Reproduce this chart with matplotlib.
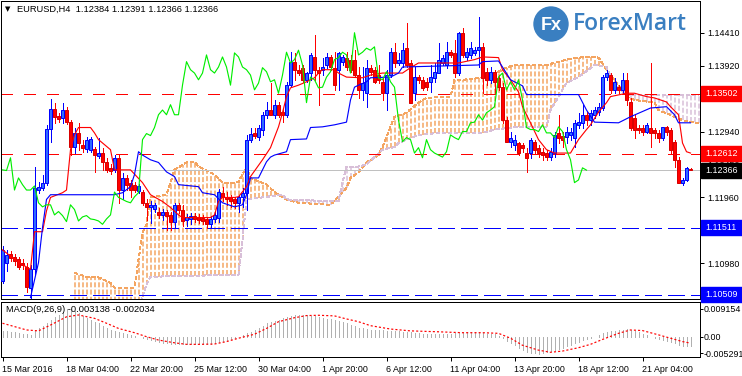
import numpy as np
import matplotlib
matplotlib.use("Agg")
import matplotlib.pyplot as plt
from matplotlib.patches import Rectangle, Circle
from matplotlib.transforms import IdentityTransform

plt.rcParams['font.family'] = ['Liberation Sans', 'DejaVu Sans']
plt.rcParams['lines.scale_dashes'] = False

# ---------------- EURUSD H4 candles (bar 0 = 15 Mar 2016) ----------------
opens = [1.1071, 1.1099, 1.1112, 1.1108, 1.1104, 1.1099, 1.1093, 1.1062, 1.1089, 1.1207,
         1.1210, 1.1218, 1.1298, 1.1328, 1.1317, 1.1314, 1.1326, 1.1308, 1.1271, 1.1292,
         1.1274, 1.1268, 1.1267, 1.1268, 1.1258, 1.1262, 1.1248, 1.1240, 1.1237, 1.1255,
         1.1207, 1.1225, 1.1218, 1.1215, 1.1206, 1.1204, 1.1188, 1.1182, 1.1179, 1.1175,
         1.1170, 1.1175, 1.1170, 1.1160, 1.1185, 1.1178, 1.1163, 1.1164, 1.1169, 1.1167,
         1.1166, 1.1164, 1.1156, 1.1164, 1.1166, 1.1203, 1.1197, 1.1196, 1.1193, 1.1188,
         1.1196, 1.1203, 1.1282, 1.1292, 1.1286, 1.1297, 1.1319, 1.1326, 1.1319, 1.1334,
         1.1323, 1.1319, 1.1363, 1.1398, 1.1386, 1.1389, 1.1371, 1.1381, 1.1405, 1.1386,
         1.1386, 1.1393, 1.1405, 1.1389, 1.1386, 1.1398, 1.1404, 1.1401, 1.1401, 1.1378,
         1.1356, 1.1351, 1.1389, 1.1386, 1.1378, 1.1368, 1.1351, 1.1378, 1.1412, 1.1396,
         1.1396, 1.1418, 1.1396, 1.1351, 1.1375, 1.1371, 1.1368, 1.1368, 1.1374, 1.1381,
         1.1396, 1.1393, 1.1412, 1.1411, 1.1381, 1.1441, 1.1405, 1.1408, 1.1411, 1.1415,
         1.1420, 1.1383, 1.1371, 1.1383, 1.1374, 1.1360, 1.1311, 1.1279, 1.1274, 1.1277,
         1.1274, 1.1262, 1.1262, 1.1279, 1.1270, 1.1264, 1.1262, 1.1256, 1.1262, 1.1292,
         1.1288, 1.1286, 1.1289, 1.1285, 1.1304, 1.1307, 1.1319, 1.1311, 1.1319, 1.1323,
         1.1329, 1.1375, 1.1378, 1.1356, 1.1360, 1.1356, 1.1371, 1.1338, 1.1314, 1.1300,
         1.1300, 1.1294, 1.1300, 1.1297, 1.1292, 1.1285, 1.1301, 1.1297, 1.1279, 1.1252,
         1.1218, 1.1222, 1.12384]
highs = [1.1124, 1.1118, 1.1117, 1.1112, 1.1108, 1.1104, 1.1098, 1.1095, 1.1242, 1.1219,
         1.1230, 1.1304, 1.1343, 1.1337, 1.1322, 1.1337, 1.1331, 1.1311, 1.1300, 1.1307,
         1.1282, 1.1286, 1.1286, 1.1271, 1.1285, 1.1270, 1.1255, 1.1245, 1.1259, 1.1259,
         1.1233, 1.1230, 1.1222, 1.1219, 1.1216, 1.1207, 1.1193, 1.1190, 1.1188, 1.1181,
         1.1179, 1.1178, 1.1175, 1.1188, 1.1188, 1.1185, 1.1172, 1.1173, 1.1173, 1.1172,
         1.1170, 1.1167, 1.1169, 1.1175, 1.1209, 1.1212, 1.1204, 1.1200, 1.1197, 1.1200,
         1.1210, 1.1289, 1.1300, 1.1300, 1.1304, 1.1323, 1.1338, 1.1366, 1.1341, 1.1338,
         1.1329, 1.1368, 1.1412, 1.1411, 1.1393, 1.1393, 1.1383, 1.1411, 1.1438, 1.1390,
         1.1404, 1.1411, 1.1408, 1.1412, 1.1412, 1.1408, 1.1412, 1.1408, 1.1415, 1.1390,
         1.1390, 1.1401, 1.1393, 1.1390, 1.1393, 1.1374, 1.1386, 1.1418, 1.1426, 1.1411,
         1.1426, 1.1455, 1.1401, 1.1390, 1.1378, 1.1375, 1.1374, 1.1393, 1.1396, 1.1426,
         1.1408, 1.1427, 1.1415, 1.1430, 1.1442, 1.1448, 1.1418, 1.1427, 1.1420, 1.1464,
         1.1426, 1.1389, 1.1390, 1.1386, 1.1378, 1.1366, 1.1316, 1.1294, 1.1289, 1.1279,
         1.1277, 1.1270, 1.1285, 1.1282, 1.1274, 1.1270, 1.1267, 1.1270, 1.1294, 1.1319,
         1.1294, 1.1301, 1.1300, 1.1311, 1.1322, 1.1334, 1.1323, 1.1326, 1.1331, 1.1337,
         1.1378, 1.1386, 1.1381, 1.1374, 1.1363, 1.1381, 1.1381, 1.1344, 1.1319, 1.1304,
         1.1304, 1.1307, 1.1396, 1.1300, 1.1297, 1.1301, 1.1302, 1.1300, 1.1282, 1.1256,
         1.1225, 1.1242, 1.12391]
lows = [1.1068, 1.1086, 1.1101, 1.1096, 1.1089, 1.1089, 1.1056, 1.1047, 1.1081, 1.1203,
        1.1207, 1.1215, 1.1279, 1.1307, 1.1308, 1.1307, 1.1305, 1.1259, 1.1262, 1.1267,
        1.1264, 1.1264, 1.1264, 1.1234, 1.1255, 1.1237, 1.1234, 1.1231, 1.1234, 1.1188,
        1.1193, 1.1207, 1.1197, 1.1204, 1.1202, 1.1185, 1.1163, 1.1158, 1.1175, 1.1166,
        1.1163, 1.1148, 1.1148, 1.1151, 1.1173, 1.1153, 1.1154, 1.1157, 1.1160, 1.1158,
        1.1157, 1.1150, 1.1151, 1.1160, 1.1160, 1.1190, 1.1185, 1.1182, 1.1181, 1.1175,
        1.1182, 1.1178, 1.1279, 1.1285, 1.1282, 1.1289, 1.1314, 1.1319, 1.1314, 1.1316,
        1.1308, 1.1316, 1.1362, 1.1371, 1.1378, 1.1368, 1.1368, 1.1371, 1.1371, 1.1334,
        1.1378, 1.1389, 1.1386, 1.1356, 1.1356, 1.1393, 1.1386, 1.1383, 1.1375, 1.1344,
        1.1341, 1.1331, 1.1378, 1.1366, 1.1366, 1.1341, 1.1326, 1.1375, 1.1390, 1.1393,
        1.1390, 1.1390, 1.1337, 1.1341, 1.1366, 1.1356, 1.1356, 1.1353, 1.1368, 1.1381,
        1.1393, 1.1389, 1.1405, 1.1375, 1.1378, 1.1405, 1.1401, 1.1404, 1.1408, 1.1390,
        1.1351, 1.1363, 1.1366, 1.1351, 1.1356, 1.1307, 1.1279, 1.1271, 1.1267, 1.1259,
        1.1264, 1.1234, 1.1255, 1.1262, 1.1256, 1.1252, 1.1252, 1.1252, 1.1256, 1.1277,
        1.1271, 1.1277, 1.1282, 1.1271, 1.1300, 1.1300, 1.1304, 1.1304, 1.1314, 1.1319,
        1.1326, 1.1371, 1.1351, 1.1351, 1.1351, 1.1351, 1.1334, 1.1297, 1.1285, 1.1292,
        1.1289, 1.1292, 1.1271, 1.1285, 1.1279, 1.1282, 1.1289, 1.1262, 1.1242, 1.1218,
        1.1215, 1.1221, 1.12366]
closes = [1.1118, 1.1111, 1.1106, 1.1101, 1.1093, 1.1095, 1.1063, 1.1090, 1.1210, 1.1212,
          1.1218, 1.1298, 1.1328, 1.1316, 1.1313, 1.1326, 1.1308, 1.1271, 1.1292, 1.1277,
          1.1270, 1.1282, 1.1283, 1.1259, 1.1262, 1.1248, 1.1237, 1.1236, 1.1255, 1.1207,
          1.1225, 1.1215, 1.1207, 1.1207, 1.1213, 1.1188, 1.1182, 1.1185, 1.1185, 1.1170,
          1.1175, 1.1169, 1.1160, 1.1185, 1.1178, 1.1161, 1.1167, 1.1169, 1.1164, 1.1163,
          1.1161, 1.1156, 1.1164, 1.1170, 1.1204, 1.1196, 1.1193, 1.1190, 1.1188, 1.1197,
          1.1203, 1.1282, 1.1291, 1.1288, 1.1300, 1.1319, 1.1326, 1.1319, 1.1334, 1.1319,
          1.1319, 1.1363, 1.1398, 1.1386, 1.1381, 1.1371, 1.1381, 1.1408, 1.1386, 1.1381,
          1.1390, 1.1405, 1.1390, 1.1363, 1.1411, 1.1405, 1.1390, 1.1386, 1.1378, 1.1356,
          1.1366, 1.1389, 1.1383, 1.1368, 1.1371, 1.1351, 1.1378, 1.1412, 1.1396, 1.1401,
          1.1415, 1.1393, 1.1337, 1.1375, 1.1371, 1.1359, 1.1360, 1.1375, 1.1383, 1.1401,
          1.1404, 1.1412, 1.1408, 1.1381, 1.1441, 1.1408, 1.1412, 1.1418, 1.1415, 1.1420,
          1.1374, 1.1371, 1.1383, 1.1368, 1.1360, 1.1311, 1.1279, 1.1285, 1.1282, 1.1262,
          1.1270, 1.1255, 1.1282, 1.1267, 1.1262, 1.1259, 1.1256, 1.1264, 1.1289, 1.1285,
          1.1282, 1.1294, 1.1294, 1.1307, 1.1308, 1.1319, 1.1311, 1.1322, 1.1326, 1.1331,
          1.1375, 1.1381, 1.1356, 1.1368, 1.1356, 1.1371, 1.1341, 1.1300, 1.1297, 1.1297,
          1.1294, 1.1304, 1.1292, 1.1292, 1.1285, 1.1301, 1.1294, 1.1267, 1.1252, 1.1218,
          1.1222, 1.1240, 1.12366]

# ---------------- Ichimoku lines, read as (bar, price) vertices ----------------
tenkan_bars = [0, 3, 5, 7, 8, 10, 11, 12, 15, 16, 17, 18, 19, 22, 23, 24, 25, 27, 28, 32,
               35, 37, 40, 42, 44, 45, 52, 53, 54, 55, 58, 59, 61, 62, 65, 67, 69, 70, 71, 72,
               74, 76, 78, 79, 80, 83, 84, 86, 90, 92, 95, 100, 102, 104, 114, 118, 120, 124, 125, 127,
               129, 130, 132, 134, 136, 138, 142, 144, 146, 147, 149, 151, 152, 156, 158, 161, 163, 166, 167, 169,
               170, 171, 172]
tenkan_vals = [1.1118, 1.1104, 1.1096, 1.1089, 1.1145, 1.1145, 1.1176, 1.1196, 1.1203, 1.1207,
               1.1267, 1.1289, 1.1300, 1.1300, 1.1292, 1.1282, 1.1277, 1.1267, 1.1237, 1.1237,
               1.1218, 1.1200, 1.1190, 1.1181, 1.1170, 1.1166, 1.1166, 1.1170, 1.1190, 1.1196,
               1.1196, 1.1197, 1.1212, 1.1227, 1.1252, 1.1270, 1.1301, 1.1322, 1.1346, 1.1359,
               1.1363, 1.1368, 1.1374, 1.1381, 1.1386, 1.1386, 1.1381, 1.1375, 1.1374, 1.1378,
               1.1381, 1.1381, 1.1389, 1.1396, 1.1396, 1.1401, 1.1405, 1.1404, 1.1386, 1.1371,
               1.1353, 1.1331, 1.1307, 1.1282, 1.1267, 1.1262, 1.1262, 1.1282, 1.1297, 1.1304,
               1.1323, 1.1337, 1.1346, 1.1351, 1.1351, 1.1346, 1.1344, 1.1338, 1.1331, 1.1319,
               1.1277, 1.1264, 1.1262]

kijun_bars = [7, 9, 10, 11, 12, 28, 30, 32, 33, 34, 35, 37, 39, 41, 43, 44, 49, 50, 53, 55,
              58, 60, 61, 62, 64, 66, 67, 68, 71, 72, 76, 77, 80, 83, 86, 87, 88, 89, 91, 92,
              97, 99, 100, 119, 120, 124, 125, 127, 130, 131, 144, 146, 148, 154, 157, 162, 166, 168, 169, 172]
kijun_vals = [1.1047, 1.1099, 1.1151, 1.1193, 1.1200, 1.1200, 1.1203, 1.1212, 1.1230, 1.1264,
              1.1259, 1.1252, 1.1248, 1.1234, 1.1227, 1.1215, 1.1212, 1.1203, 1.1200, 1.1188,
              1.1182, 1.1185, 1.1200, 1.1225, 1.1225, 1.1249, 1.1256, 1.1259, 1.1264, 1.1282,
              1.1283, 1.1300, 1.1301, 1.1304, 1.1308, 1.1341, 1.1360, 1.1363, 1.1368, 1.1374,
              1.1375, 1.1381, 1.1390, 1.1393, 1.1398, 1.1399, 1.1390, 1.1371, 1.1362, 1.1349,
              1.1349, 1.1326, 1.1308, 1.1307, 1.1316, 1.1329, 1.1331, 1.1319, 1.1307, 1.1307]

span_a_bars = [18, 21, 24, 27, 28, 33, 35, 36, 37, 41, 43, 46, 48, 49, 53, 55, 58, 59, 61, 62,
               66, 68, 71, 74, 82, 84, 86, 87, 89, 91, 94, 95, 97, 98, 101, 104, 106, 112, 113, 115,
               120, 124, 126, 128, 136, 141, 144, 148, 149, 151, 154, 156, 158, 163, 164, 168, 170, 172, 174]
span_a_vals = [1.1084, 1.1078, 1.1077, 1.1069, 1.1062, 1.1062, 1.1144, 1.1156, 1.1196, 1.1200,
               1.1237, 1.1248, 1.1249, 1.1242, 1.1230, 1.1218, 1.1218, 1.1219, 1.1242, 1.1225,
               1.1215, 1.1204, 1.1193, 1.1188, 1.1185, 1.1197, 1.1210, 1.1225, 1.1233, 1.1248,
               1.1259, 1.1271, 1.1301, 1.1316, 1.1322, 1.1337, 1.1344, 1.1346, 1.1371, 1.1371,
               1.1374, 1.1383, 1.1389, 1.1393, 1.1393, 1.1401, 1.1404, 1.1405, 1.1404, 1.1386,
               1.1363, 1.1346, 1.1341, 1.1337, 1.1326, 1.1316, 1.1311, 1.1308, 1.1307]

span_b_bars = [18, 34, 36, 37, 59, 60, 61, 70, 71, 84, 85, 86, 89, 91, 95, 98, 99, 104, 109, 120,
               123, 129, 136, 137, 141, 144, 148, 151, 153, 156, 174]
span_b_vals = [1.1030, 1.1030, 1.1066, 1.1078, 1.1081, 1.1133, 1.1193, 1.1200, 1.1193, 1.1190,
               1.1219, 1.1242, 1.1242, 1.1245, 1.1267, 1.1271, 1.1277, 1.1289, 1.1292, 1.1292,
               1.1297, 1.1301, 1.1301, 1.1326, 1.1366, 1.1375, 1.1393, 1.1390, 1.1363, 1.1349, 1.1349]

# ---------------- MACD(9,26,9) ----------------
macd_hist = [0.0020, 0.0019, 0.0017, 0.0015, 0.0012, 0.0011, 0.0009, 0.0007, 0.0018, 0.0028,
             0.0037, 0.0047, 0.0056, 0.0064, 0.0072, 0.0083, 0.0090, 0.0091, 0.0085, 0.0077,
             0.0069, 0.0061, 0.0056, 0.0050, 0.0045, 0.0036, 0.0028, 0.0024, 0.0020, 0.0017,
             0.0013, 0.0009, 0.0006, 0.0003, 0.0000, -0.0004, -0.0008, -0.0010, -0.0013, -0.0015,
             -0.0018, -0.0021, -0.0022, -0.0022, -0.0023, -0.0024, -0.0024, -0.0024, -0.0024, -0.0024,
             -0.0024, -0.0023, -0.0022, -0.0021, -0.0017, -0.0014, -0.0010, -0.0007, -0.0003, 0.0000,
             0.0006, 0.0012, 0.0017, 0.0022, 0.0028, 0.0036, 0.0045, 0.0049, 0.0052, 0.0056,
             0.0061, 0.0065, 0.0069, 0.0071, 0.0072, 0.0072, 0.0071, 0.0070, 0.0067, 0.0064,
             0.0062, 0.0060, 0.0058, 0.0056, 0.0052, 0.0049, 0.0045, 0.0040, 0.0036, 0.0031,
             0.0028, 0.0025, 0.0023, 0.0023, 0.0022, 0.0022, 0.0021, 0.0020, 0.0019, 0.0018,
             0.0017, 0.0016, 0.0015, 0.0013, 0.0012, 0.0011, 0.0010, 0.0010, 0.0009, 0.0009,
             0.0010, 0.0010, 0.0011, 0.0012, 0.0013, 0.0014, 0.0015, 0.0015, 0.0015, 0.0015,
             0.0013, 0.0011, 0.0010, 0.0009, 0.0004, -0.0002, -0.0012, -0.0020, -0.0027, -0.0035,
             -0.0042, -0.0049, -0.0052, -0.0053, -0.0054, -0.0052, -0.0050, -0.0047, -0.0043, -0.0040,
             -0.0036, -0.0031, -0.0026, -0.0020, -0.0015, -0.0011, -0.0008, -0.0004, 0.0001, 0.0006,
             0.0012, 0.0015, 0.0018, 0.0021, 0.0023, 0.0024, 0.0025, 0.0023, 0.0020, 0.0017,
             0.0011, 0.0006, 0.0001, -0.0002, -0.0006, -0.0010, -0.0013, -0.0016, -0.0021, -0.0026,
             -0.0029, -0.0031, -0.0031]
signal_bars = [0, 3, 6, 9, 12, 16, 19, 23, 26, 29, 33, 36, 39, 43, 46, 49, 53, 56, 59, 63,
               66, 69, 73, 76, 79, 83, 86, 89, 92, 97, 102, 109, 115, 120, 124, 127, 130, 134, 137, 140,
               144, 147, 150, 154, 157, 160, 164, 167, 170, 172]
signal_vals = [0.0045, 0.0034, 0.0023, 0.0020, 0.0039, 0.0066, 0.0072, 0.0061, 0.0045, 0.0028,
               0.0014, 0.0001, -0.0010, -0.0019, -0.0024, -0.0024, -0.0023, -0.0015, -0.0004, 0.0009,
               0.0028, 0.0050, 0.0063, 0.0070, 0.0071, 0.0069, 0.0059, 0.0050, 0.0037, 0.0026,
               0.0020, 0.0017, 0.0014, 0.0014, 0.0012, -0.0004, -0.0027, -0.0043, -0.0050, -0.0046,
               -0.0035, -0.0024, -0.0008, 0.0012, 0.0023, 0.0021, 0.0007, -0.0004, -0.0015, -0.0020]

level_red = [1.13502, 1.12612]
level_blue = [1.11511, 1.10509]
last_price = 1.12366

price_ticks = [1.14410, 1.13920, 1.13430, 1.12940, 1.12450, 1.11960, 1.11470, 1.10980]
macd_ticks = [0.009154, 0.0, -0.005291]
macd_tick_labels = ['0.009154', '0.00', '-0.005291']
date_ticks = [0, 16, 32, 48, 64, 80, 96, 112, 128, 144, 160]
date_labels = ['15 Mar 2016', '18 Mar 04:00', '22 Mar 20:00', '25 Mar 12:00', '30 Mar 04:00',
               '1 Apr 20:00', '6 Apr 12:00', '11 Apr 04:00', '13 Apr 20:00', '18 Apr 12:00',
               '21 Apr 04:00']

# ---------------- figure ----------------
W, H = 742, 376
PX = 0.72  # one pixel in points at dpi 100
fig = plt.figure(figsize=(W / 100, H / 100), dpi=100)


def rect(x0, y0, x1, y1):
    return [x0 / W, 1 - y1 / H, (x1 - x0) / W, (y1 - y0) / H]


ax = fig.add_axes(rect(1, 1, 700, 299))
am = fig.add_axes(rect(1, 302, 700, 357))
x_lim = (-0.375, 174.375)
for a in (ax, am):
    a.set_xlim(*x_lim)
    for s in a.spines.values():
        s.set_linewidth(PX)
        s.set_color('black')
ax.set_ylim(1.10449, 1.14882)
am.set_ylim(-0.00654, 0.01144)

n = len(closes)
x = np.arange(n)
o, h, l, c = map(np.array, (opens, highs, lows, closes))

# cloud: one dashed vertical per bar between span A and span B
cb = np.arange(18, 175)
sa = np.interp(cb, span_a_bars, span_a_vals)
sb = np.interp(cb, span_b_bars, span_b_vals)
up = sa >= sb
CLOUD_LS = (0, (3.6, 1.6))
ax.vlines(cb[up], sb[up], sa[up], colors='#f4a460', lw=PX * 1.5, linestyles=[CLOUD_LS],
          zorder=1)
ax.vlines(cb[~up], sa[~up], sb[~up], colors='#d8bfd8', lw=PX * 1.5, linestyles=[CLOUD_LS],
          zorder=1)
ax.plot(span_a_bars, span_a_vals, color='#f4a460', lw=PX, linestyle=(0, (2.2, 1.5)),
        antialiased=False, zorder=1)
ax.plot(span_b_bars, span_b_vals, color='#d8bfd8', lw=PX, linestyle=(0, (2.2, 1.5)),
        antialiased=False, zorder=1)

# horizontal levels
for v in level_red:
    ax.axhline(v, color='#ff0000', lw=PX * 1.3, linestyle=(0, (8.6, 8.6)),
               antialiased=False, zorder=2)
for v in level_blue:
    ax.axhline(v, color='#0000ff', lw=PX * 1.3, linestyle=(0, (12.2, 5.0)),
               antialiased=False, zorder=2)
ax.axhline(last_price, color='#c0c0c0', lw=PX, antialiased=False, zorder=2)

# candles
bull = c >= o
cols = np.where(bull, '#0000ff', '#ff0000')
ax.vlines(x, l, h, colors=cols, lw=PX, antialiased=False, zorder=3)
body_lo = np.minimum(o, c)
body_h = np.maximum(np.abs(c - o), 0.00008)
ax.bar(x[bull], body_h[bull], bottom=body_lo[bull], width=0.6, color='#2f6bff',
       edgecolor='#0000ff', lw=PX, zorder=4)
ax.bar(x[~bull], body_h[~bull], bottom=body_lo[~bull], width=0.6, color='#ff0000',
       edgecolor='#d80000', lw=PX, zorder=4)

# ichimoku lines
ax.plot(tenkan_bars, tenkan_vals, color='#ff0000', lw=PX * 1.15, zorder=5)
ax.plot(kijun_bars, kijun_vals, color='#0000ff', lw=PX * 1.15, zorder=5)
ax.plot(x[26:] - 26, c[26:], color='#00ee00', lw=PX * 1.15, zorder=5)

# price axis
ax.set_xticks([])
ax.yaxis.tick_right()
ax.set_yticks(price_ticks)
ax.set_yticklabels([f'{v:.5f}' for v in price_ticks])
ax.tick_params(axis='y', length=3, width=PX, pad=2, labelsize=6.4)

ytr = ax.get_yaxis_transform()
bh = 15 * (1.14882 - 1.10449) / 298
for v, fc in [(1.13502, '#ff0000'), (1.12612, '#ff0000'), (last_price, '#000000'),
              (1.11511, '#0000ff'), (1.10509, '#0000ff')]:
    ax.add_patch(Rectangle((1 + 1 / 699, v - bh / 2), 42 / 699, bh, transform=ytr,
                           color=fc, clip_on=False, zorder=10))
    ax.text(1 + 5 / 699, v, f'{v:.5f}', transform=ytr, color='white', fontsize=6.4,
            va='center', ha='left', clip_on=False, zorder=11)

# MACD panel
am.vlines(x, 0, macd_hist, colors='#b0b0b0', lw=PX, antialiased=False, zorder=2)
am.plot(signal_bars, signal_vals, color='#ff0000', lw=PX * 1.2, linestyle=(0, (1.5, 1.5)),
        zorder=3)
am.yaxis.tick_right()
am.set_yticks(macd_ticks)
am.set_yticklabels(macd_tick_labels)
am.tick_params(axis='y', length=2, width=PX, pad=0.5, labelsize=6.4)
am.set_xticks(date_ticks)
am.set_xticklabels(date_labels, ha='left')
am.tick_params(axis='x', length=3, width=PX, pad=3, labelsize=6.4)

# texts
fig.text(5 / W, 1 - 9 / H, '\u25bc', fontsize=5, va='center', ha='left',
         family='DejaVu Sans')
fig.text(17 / W, 1 - 9 / H, 'EURUSD,H4  1.12384 1.12391 1.12366 1.12366',
         fontsize=6.7, va='center', ha='left')
fig.text(6 / W, 1 - 310 / H, 'MACD(9,26,9) -0.003138 -0.002034',
         fontsize=6.7, va='center', ha='left')

# ForexMart logo
fig.add_artist(Circle((551, H - 24), 17, transform=IdentityTransform(), color='#3a7fc1'))
fig.text(551 / W, 1 - 25 / H, 'Fx', color='white', fontsize=13, weight='bold',
         va='center', ha='center')
fig.text(573 / W, 1 - 24 / H, 'ForexMart', color='#3a7fc1', fontsize=16.5,
         va='center', ha='left', family='Open Sans', weight='semibold')

fig.savefig('out.png', dpi=100)
